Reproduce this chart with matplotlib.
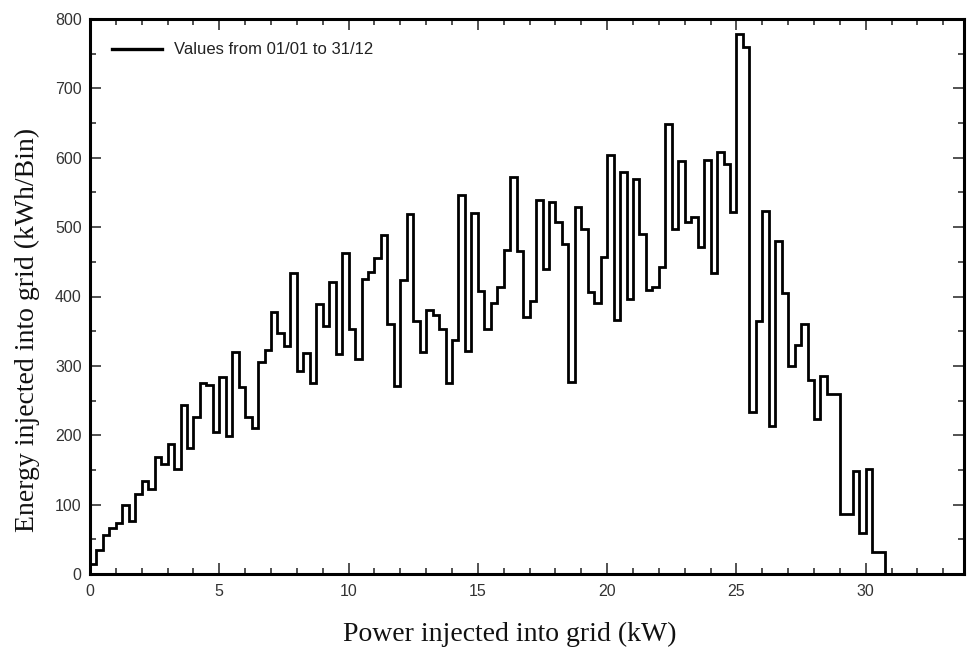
import numpy as np
import matplotlib
matplotlib.use("Agg")
import matplotlib.pyplot as plt
from matplotlib.ticker import MultipleLocator

# ---- data (energy per 0.25 kW bin, kWh/Bin) ----
bin_start_kw = 0.0
bin_width_kw = 0.25
energy_kwh = [
    15, 34, 56, 66, 74, 100, 77, 116, 134, 122,
    168, 158, 187, 151, 244, 182, 227, 276, 272, 205,
    284, 199, 320, 270, 226, 210, 305, 323, 378, 347,
    329, 434, 292, 318, 275, 389, 357, 421, 317, 463,
    353, 310, 425, 435, 455, 489, 360, 271, 424, 519,
    365, 320, 380, 374, 353, 276, 338, 546, 321, 520,
    408, 353, 390, 413, 467, 572, 465, 370, 394, 539,
    440, 536, 507, 476, 277, 529, 497, 406, 391, 457,
    604, 366, 579, 396, 570, 490, 410, 414, 442, 648,
    497, 596, 508, 514, 472, 597, 434, 609, 591, 522,
    778, 760, 234, 364, 523, 213, 480, 405, 300, 330,
    360, 279, 224, 285, 260, 260, 87, 87, 149, 59,
    152, 31, 31,
]
legend_label = "Values from 01/01 to 31/12"
x_label = "Power injected into grid (kW)"
y_label = "Energy injected into grid (kWh/Bin)"

edges = bin_start_kw + bin_width_kw * np.arange(len(energy_kwh) + 1)

W, H = 971, 654
fig = plt.figure(figsize=(W / 100, H / 100), dpi=100)
L, R, T, B = 90, 964, 19, 574
ax = fig.add_axes([L / W, 1 - B / H, (R - L) / W, (B - T) / H])

ax.stairs(energy_kwh, edges, baseline=0, color="black", linewidth=2.0,
          label=legend_label)

ax.set_xlim(0, 33.8)
ax.set_ylim(0, 800)
ax.xaxis.set_major_locator(MultipleLocator(5))
ax.xaxis.set_minor_locator(MultipleLocator(1))
ax.yaxis.set_major_locator(MultipleLocator(100))
ax.yaxis.set_minor_locator(MultipleLocator(50))

for s in ax.spines.values():
    s.set_linewidth(2.2)
    s.set_color("black")

ax.tick_params(which="both", direction="in", top=True, right=True,
               width=1.2, color="#333333")
ax.tick_params(which="major", length=8, labelsize=11.5, labelcolor="#333333")
ax.tick_params(which="minor", length=4.5)
ax.tick_params(axis="x", which="major", pad=7)
ax.tick_params(axis="y", which="major", pad=6)
for lab in ax.get_xticklabels() + ax.get_yticklabels():
    lab.set_family("Liberation Sans")

fig.text(510 / W, 1 - 634 / H, x_label, ha="center", va="center",
         family="Liberation Serif", fontsize=20, color="#111111")
fig.text(27 / W, 1 - 330 / H, y_label, ha="center", va="center", rotation=90,
         family="Liberation Serif", fontsize=20, color="#111111")

leg = ax.legend(loc="center left", bbox_to_anchor=(22 / (R - L), (B - 50) / (B - T)),
                frameon=False, handlelength=3.0, handletextpad=0.75,
                borderpad=0, borderaxespad=0,
                prop={"family": "Liberation Sans", "size": 12})
for t in leg.get_texts():
    t.set_color("#222222")
for h in leg.get_lines():
    h.set_linewidth(2.4)

fig.savefig("out.png", dpi=100, facecolor="white")
